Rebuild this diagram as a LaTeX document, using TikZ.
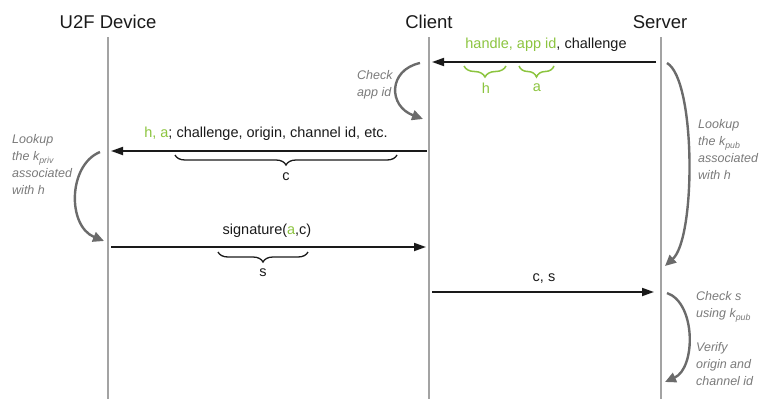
\documentclass[tikz,border=0pt]{standalone}
\usepackage{fontspec}
\setmainfont{Liberation Sans}
\usetikzlibrary{arrows.meta,decorations.pathreplacing}
\definecolor{lgreen}{HTML}{8CC43F}
\definecolor{lifegray}{HTML}{A3A3A3}
\definecolor{anngray}{HTML}{6B6B6B}
\definecolor{txtgray}{HTML}{7A7A7A}
\definecolor{ink}{HTML}{1A1A1A}
\begin{document}
\begin{tikzpicture}[x=1pt,y=-1pt,
  header/.style={font=\fontsize{18.5}{22}\selectfont, text=ink, inner sep=0pt},
  msglabel/.style={font=\fontsize{14.5}{17}\selectfont, text=ink, inner sep=0pt},
  lifeline/.style={draw=lifegray, line width=2pt},
  msg/.style={draw=ink, line width=1.8pt, -{Triangle[length=12pt,width=8pt]}},
  selfarrow/.style={draw=anngray, line width=2.4pt, -{Triangle[length=11pt,width=10pt]}},
  note/.style={font=\fontsize{12.5}{17}\selectfont\itshape, text=txtgray, align=left, inner sep=0pt, anchor=west},
  gbrace/.style={draw=lgreen, line width=1.5pt, decorate, decoration={brace, mirror, amplitude=11pt}},
  bbrace/.style={draw=ink, line width=1.3pt, decorate, decoration={brace, mirror, amplitude=10pt}},
  gletter/.style={font=\fontsize{14.5}{17}\selectfont, text=lgreen, inner sep=0pt},
  bletter/.style={font=\fontsize{14.5}{17}\selectfont, text=ink, inner sep=0pt},
]
\useasboundingbox (0,0) rectangle (761,399);

% headers
\node[header] (dev) at (108,22) {U2F Device};
\node[header] (cli) at (429,22) {Client};
\node[header] (srv) at (660,22) {Server};

% lifelines
\coordinate (d0) at (108,37); \coordinate (d1) at (108,400);
\coordinate (c0) at (429,37); \coordinate (c1) at (429,400);
\coordinate (s0) at (661,37); \coordinate (s1) at (661,400);
\draw[lifeline] (d0) -- (d1);
\draw[lifeline] (c0) -- (c1);
\draw[lifeline] (s0) -- (s1);

% message 1: server -> client
\coordinate (m1s) at (656,62); \coordinate (m1e) at (432,62);
\draw[msg] (m1s) -- (m1e);
\node[msglabel] (l1) at (546,45) {\textcolor{lgreen}{handle, app id}, challenge};
\coordinate (bh0) at (464,66); \coordinate (bh1) at (506,66);
\draw[gbrace] (bh0) -- (bh1);
\node[gletter] (lh) at (486,88) {h};
\coordinate (ba0) at (519,66); \coordinate (ba1) at (554,66);
\draw[gbrace] (ba0) -- (ba1);
\node[gletter] (la) at (537,88) {a};

% message 2: client -> device
\coordinate (m2s) at (427,151); \coordinate (m2e) at (111,151);
\draw[msg] (m2s) -- (m2e);
\node[msglabel] (l2) at (266,134) {\textcolor{lgreen}{h, a}; challenge, origin, channel id, etc.};
\coordinate (bc0) at (175,155); \coordinate (bc1) at (397,155);
\draw[bbrace] (bc0) -- (bc1);
\node[bletter] (lc) at (286,177) {c};

% message 3: device -> client
\coordinate (m3s) at (111,247); \coordinate (m3e) at (426,247);
\draw[msg] (m3s) -- (m3e);
\node[msglabel] (l3) at (267,231) {signature(\textcolor{lgreen}{a},c)};
\coordinate (bs0) at (218,252); \coordinate (bs1) at (308,252);
\draw[bbrace] (bs0) -- (bs1);
\node[bletter] (ls) at (263,273) {s};

% message 4: client -> server
\coordinate (m4s) at (432,292); \coordinate (m4e) at (654,292);
\draw[msg] (m4s) -- (m4e);
\node[msglabel] (l4) at (544,279) {c, s};

% self arrows
\coordinate (ca0) at (420,63); \coordinate (ca1) at (423,119);
\draw[selfarrow] (ca0) .. controls (388,70) and (388,106) .. (ca1);
\node[note] (n1) at (357,85) {Check\\app id};

\coordinate (da0) at (100,152); \coordinate (da1) at (104,241);
\draw[selfarrow] (da0) .. controls (68,165) and (67,226) .. (da1);
\node[note] (n2) at (12,165) {Lookup\\the k\textsubscript{priv}\\associated\\with h};

\coordinate (sa0) at (667,63); \coordinate (sa1) at (665,266);
\draw[selfarrow] (sa0) .. controls (696,80) and (696,238) .. (sa1);
\node[note] (n3) at (698,150) {Lookup\\the k\textsubscript{pub}\\associated\\with h};

\coordinate (sb0) at (667,293); \coordinate (sb1) at (665,382);
\draw[selfarrow] (sb0) .. controls (696,303) and (696,368) .. (sb1);
\node[note] (n4) at (696,339) {Check s\\using k\textsubscript{pub}\\\mbox{}\\Verify\\origin and\\channel id};
\end{tikzpicture}
\end{document}
